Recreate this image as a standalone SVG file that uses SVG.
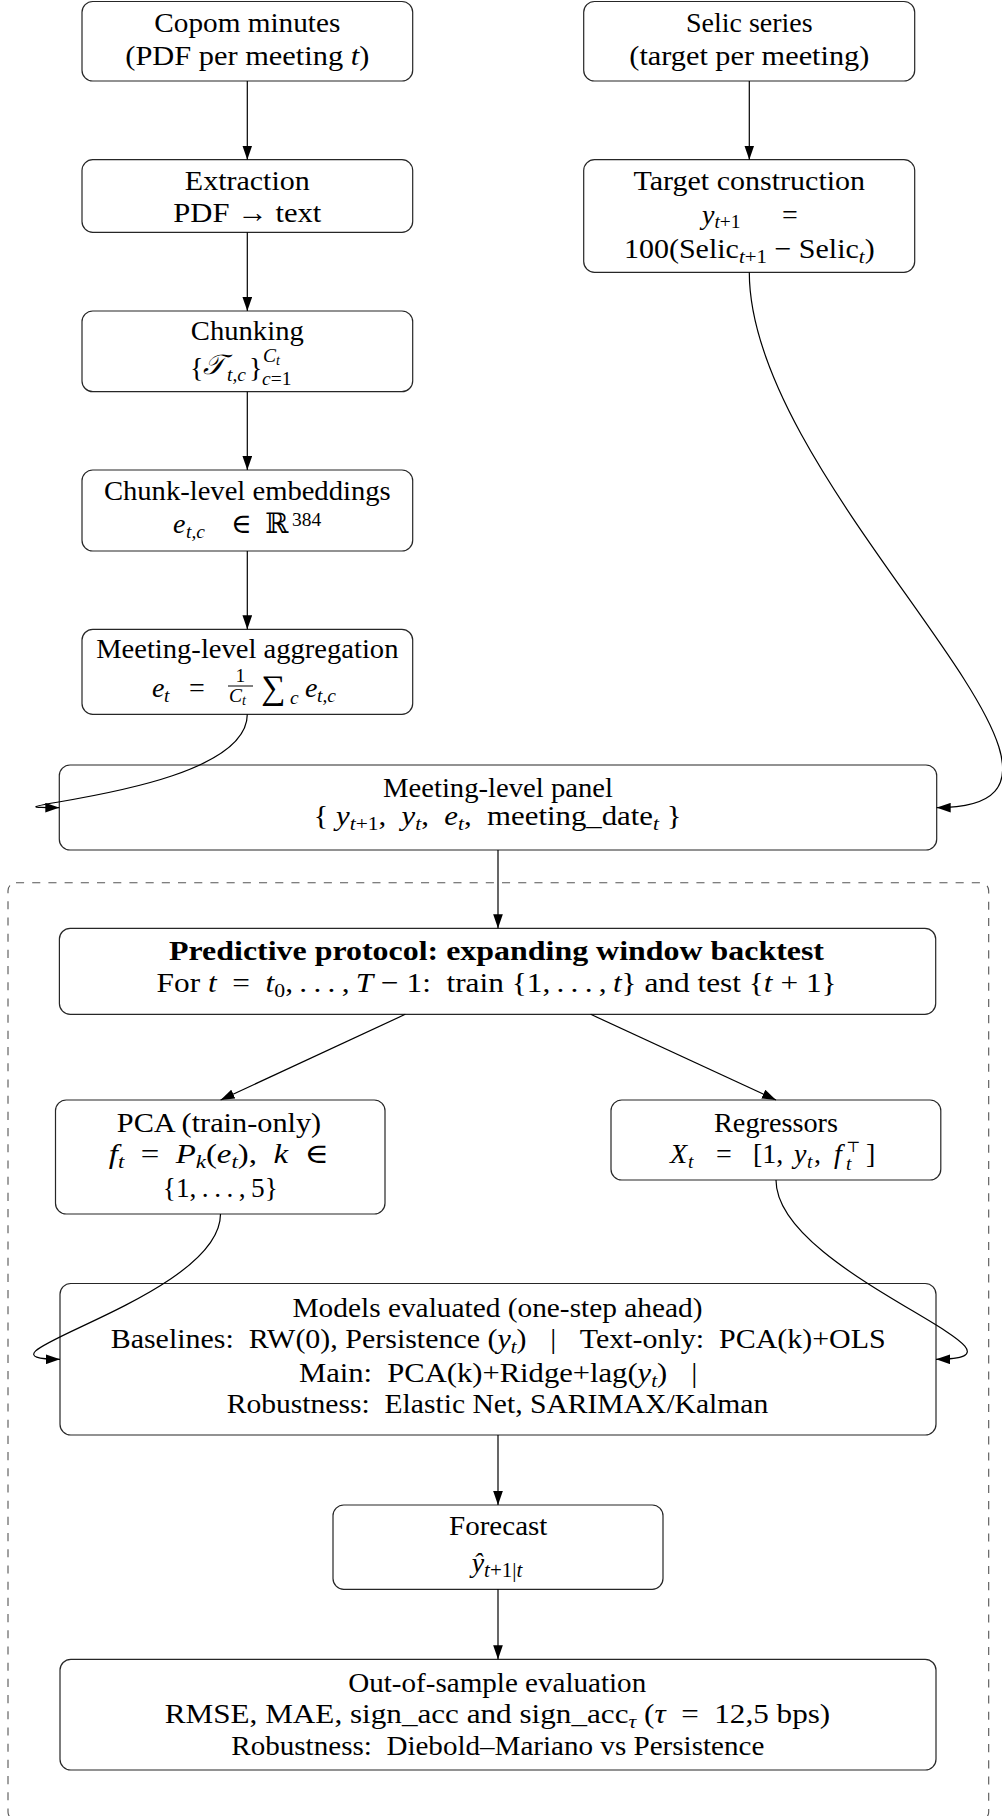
<svg xmlns="http://www.w3.org/2000/svg" width="1002" height="1816" viewBox="0 0 1002 1816">
<defs>
<style>
.n rect{fill:#fff;stroke:#262626;stroke-width:1.2}
text{font-family:"Liberation Serif","DejaVu Serif",serif;font-size:28px;fill:#000;text-anchor:middle}
text.l{text-anchor:start}
.i{font-style:italic}
.s{font-size:19.5px}
.ss{font-size:14px}
.b{font-weight:bold}
.c path,.c line{fill:none;stroke:#000;stroke-width:1.2}
.frame{fill:none;stroke:#555;stroke-width:1.1;stroke-dasharray:8.1 8.1}
</style>
<marker id="ah" markerUnits="userSpaceOnUse" markerWidth="14" markerHeight="10" refX="13" refY="4.5" orient="auto" viewBox="0 0 13 9">
<path d="M0,0 L13,4.5 L0,9 z" fill="#000"/>
</marker>
</defs>
<rect width="1002" height="1816" fill="#fff"/>
<rect class="frame" x="8" y="882.7" width="980.7" height="937.3" rx="8"/>

<g id="copom" class="n">
<rect x="82" y="1.5" width="330.7" height="79.5" rx="10.8"/>
<text x="247.3" y="32" textLength="186" lengthAdjust="spacingAndGlyphs">Copom minutes</text>
<text x="247.3" y="65" textLength="244" lengthAdjust="spacingAndGlyphs">(PDF per meeting <tspan class="i">t</tspan>)</text>
</g>

<g id="selic" class="n">
<rect x="583.7" y="1.5" width="331" height="79.5" rx="10.8"/>
<text x="749.3" y="32" textLength="126.7" lengthAdjust="spacingAndGlyphs">Selic series</text>
<text x="749.3" y="65" textLength="240" lengthAdjust="spacingAndGlyphs">(target per meeting)</text>
</g>

<g id="extraction" class="n">
<rect x="82" y="159.7" width="330.7" height="72.6" rx="10.8"/>
<text x="247.3" y="190" textLength="125" lengthAdjust="spacingAndGlyphs">Extraction</text>
<text x="247.3" y="221.7" textLength="148" lengthAdjust="spacingAndGlyphs">PDF → text</text>
</g>

<g id="target" class="n">
<rect x="583.7" y="159.7" width="331" height="112.6" rx="10.8"/>
<text x="749.3" y="190" textLength="231.7" lengthAdjust="spacingAndGlyphs">Target construction</text>
<text class="l" x="702" y="224"><tspan class="i">y</tspan><tspan class="s" dy="4"><tspan class="i">t</tspan>+1</tspan></text>
<text class="l" x="782" y="224">=</text>
<text x="749.3" y="257.5" textLength="250.7" lengthAdjust="spacingAndGlyphs">100(Selic<tspan class="s" dy="5"><tspan class="i">t</tspan>+1</tspan><tspan dy="-5">&#160;− Selic</tspan><tspan class="s i" dy="5">t</tspan><tspan dy="-5">)</tspan></text>
</g>

<g id="chunking" class="n">
<rect x="82" y="311" width="330.7" height="80.7" rx="10.8"/>
<text x="247.3" y="340" textLength="113" lengthAdjust="spacingAndGlyphs">Chunking</text>
<text class="l" x="190" y="376.7">{</text>
<text class="l i" x="203" y="374">𝒯</text>
<text class="l s i" x="227" y="381">t,c</text>
<text class="l" x="249" y="376.7">}</text>
<text class="l s i" x="263" y="362">C<tspan class="ss" dy="3">t</tspan></text>
<text class="l s" x="262" y="385"><tspan class="i">c</tspan>=1</text>
</g>

<g id="chunk-emb" class="n">
<rect x="82" y="470" width="330.7" height="81" rx="10.8"/>
<text x="247.3" y="500" textLength="286.7" lengthAdjust="spacingAndGlyphs">Chunk-level embeddings</text>
<text class="l i" x="173" y="533">e</text>
<text class="l s i" x="186" y="538">t,c</text>
<text class="l" x="231" y="533">∈</text>
<text class="l" x="265" y="533">ℝ</text>
<text class="l s" x="292" y="526">384</text>
</g>

<g id="aggregation" class="n">
<rect x="82" y="629.3" width="330.7" height="85" rx="10.8"/>
<text x="247.3" y="658.3" textLength="302.3" lengthAdjust="spacingAndGlyphs">Meeting-level aggregation</text>
<text class="l i" x="152" y="696.7">e</text>
<text class="l s i" x="164" y="701.5">t</text>
<text class="l" x="189" y="696.7">=</text>
<text class="l s" x="235.5" y="681.5">1</text>
<line x1="228" y1="686" x2="253" y2="686" stroke="#000" stroke-width="1"/>
<text class="l s i" x="229" y="702">C<tspan class="ss" dy="3">t</tspan></text>
<text class="l" x="261" y="699" style="font-size:34px">∑</text>
<text class="l s i" x="290" y="704">c</text>
<text class="l i" x="305" y="696.7">e</text>
<text class="l s i" x="317" y="701.5">t,c</text>
</g>

<g id="panel" class="n">
<rect x="59.3" y="765" width="877.4" height="85" rx="10.8"/>
<text x="498" y="796.7" textLength="230" lengthAdjust="spacingAndGlyphs">Meeting-level panel</text>
<text x="497.5" y="825" textLength="368" lengthAdjust="spacingAndGlyphs">{&#160;<tspan class="i">y</tspan><tspan class="s" dy="5"><tspan class="i">t</tspan>+1</tspan><tspan dy="-5">,&#160;&#160;</tspan><tspan class="i">y</tspan><tspan class="s i" dy="5">t</tspan><tspan dy="-5">,&#160;&#160;</tspan><tspan class="i">e</tspan><tspan class="s i" dy="5">t</tspan><tspan dy="-5">,&#160;&#160;meeting_date</tspan><tspan class="s i" dy="5">t</tspan><tspan dy="-5">&#160;}</tspan></text>
</g>

<g id="protocol" class="n">
<rect x="59.4" y="928.3" width="876.3" height="86" rx="10.8"/>
<text class="b" x="496.5" y="960" textLength="655" lengthAdjust="spacingAndGlyphs">Predictive protocol: expanding window backtest</text>
<text x="496.6" y="991.7" textLength="680" lengthAdjust="spacingAndGlyphs">For <tspan class="i">t</tspan>&#160;&#160;=&#160;&#160;<tspan class="i">t</tspan><tspan class="s" dy="5">0</tspan><tspan dy="-5">,&#8201;.&#8201;.&#8201;.&#8201;,&#8201;</tspan><tspan class="i">T</tspan>&#160;− 1:&#160; train {1,&#8201;.&#8201;.&#8201;.&#8201;,&#8201;<tspan class="i">t</tspan>} and test {<tspan class="i">t</tspan> + 1}</text>
</g>

<g id="pca" class="n">
<rect x="55.5" y="1100" width="329.5" height="114" rx="10.8"/>
<text x="219" y="1131.7" textLength="204.4" lengthAdjust="spacingAndGlyphs">PCA (train-only)</text>
<text x="218.8" y="1163" textLength="220" lengthAdjust="spacingAndGlyphs"><tspan class="i">f</tspan><tspan class="s i" dy="5">t</tspan><tspan dy="-5">&#160;&#160;=&#160;&#160;</tspan><tspan class="i">P</tspan><tspan class="s i" dy="5">k</tspan><tspan dy="-5">(</tspan><tspan class="i">e</tspan><tspan class="s i" dy="5">t</tspan><tspan dy="-5">),&#160;&#160;</tspan><tspan class="i">k</tspan>&#160;&#160;∈</text>
<text x="220.3" y="1196.7" textLength="115" lengthAdjust="spacingAndGlyphs">{1,&#8201;.&#8201;.&#8201;.&#8201;,&#8201;5}</text>
</g>

<g id="regressors" class="n">
<rect x="611" y="1100" width="329.8" height="80" rx="10.8"/>
<text x="776" y="1131.7" textLength="124" lengthAdjust="spacingAndGlyphs">Regressors</text>
<text class="l i" x="670" y="1163">X</text>
<text class="l s i" x="688" y="1168">t</text>
<text class="l" x="716" y="1163">=</text>
<text class="l" x="753" y="1163">[1,</text>
<text class="l i" x="794" y="1163">y</text>
<text class="l s i" x="807" y="1168">t</text>
<text class="l" x="814" y="1163">,</text>
<text class="l i" x="834" y="1163">f</text>
<text class="l s i" x="846" y="1170">t</text>
<text class="l" x="846" y="1152" style="font-size:15px">⊤</text>
<text class="l" x="866" y="1163">]</text>
</g>

<g id="models" class="n">
<rect x="60" y="1283.5" width="876" height="151.5" rx="10.8"/>
<text x="497.5" y="1316.7" textLength="410" lengthAdjust="spacingAndGlyphs">Models evaluated (one-step ahead)</text>
<text x="498.2" y="1348.3" textLength="775" lengthAdjust="spacingAndGlyphs">Baselines:&#160; RW(0), Persistence (<tspan class="i">y</tspan><tspan class="s i" dy="5">t</tspan><tspan dy="-5">)</tspan><tspan dx="22">|</tspan><tspan dx="22">Text-only:&#160; PCA(k)+OLS</tspan></text>
<text x="498.2" y="1381.7" textLength="398.5" lengthAdjust="spacingAndGlyphs">Main:&#160; PCA(k)+Ridge+lag(<tspan class="i">y</tspan><tspan class="s i" dy="5">t</tspan><tspan dy="-5">)</tspan><tspan dx="22">|</tspan></text>
<text x="497.5" y="1413.3" textLength="541.6" lengthAdjust="spacingAndGlyphs">Robustness:&#160; Elastic Net, SARIMAX/Kalman</text>
</g>

<g id="forecast" class="n">
<rect x="333" y="1505" width="330" height="84.3" rx="10.8"/>
<text x="498.2" y="1535" textLength="98.4" lengthAdjust="spacingAndGlyphs">Forecast</text>
<text x="497" y="1571.7"><tspan class="i">ŷ</tspan><tspan dy="5" style="font-size:21px"><tspan class="i">t</tspan>+1|<tspan class="i">t</tspan></tspan></text>
</g>

<g id="evaluation" class="n">
<rect x="60" y="1659.3" width="876" height="110.7" rx="10.8"/>
<text x="497.2" y="1691.7" textLength="298" lengthAdjust="spacingAndGlyphs">Out-of-sample evaluation</text>
<text x="497.5" y="1723.3" textLength="665.5" lengthAdjust="spacingAndGlyphs">RMSE, MAE, sign_acc and sign_acc<tspan class="s i" dy="5">τ</tspan><tspan dy="-5"> (</tspan><tspan class="i">τ</tspan>&#160;&#160;=&#160;&#160;12,5 bps)</text>
<text x="497.8" y="1755" textLength="533" lengthAdjust="spacingAndGlyphs">Robustness:&#160; Diebold–Mariano vs Persistence</text>
</g>

<g id="connectors" class="c">
<line x1="247.3" y1="81" x2="247.3" y2="159.7" marker-end="url(#ah)"/>
<line x1="247.3" y1="232.3" x2="247.3" y2="311" marker-end="url(#ah)"/>
<line x1="247.3" y1="391.7" x2="247.3" y2="470" marker-end="url(#ah)"/>
<line x1="247.3" y1="551" x2="247.3" y2="629.3" marker-end="url(#ah)"/>
<line x1="749.3" y1="81" x2="749.3" y2="159.7" marker-end="url(#ah)"/>
<path d="M247.3,714.3 C247.3,796.3 -47.7,807.7 59.3,807.7" marker-end="url(#ah)"/>
<path d="M749.3,272.3 C749.3,494.3 1158.7,807.7 936.7,807.7" marker-end="url(#ah)"/>
<line x1="498" y1="850" x2="498" y2="928.3" marker-end="url(#ah)"/>
<line x1="405.3" y1="1014.3" x2="220.6" y2="1100" marker-end="url(#ah)"/>
<line x1="590.7" y1="1014.3" x2="776" y2="1100" marker-end="url(#ah)"/>
<path d="M220.5,1214 C220.5,1298.5 -50,1359.3 60,1359.3" marker-end="url(#ah)"/>
<path d="M776,1180 C776,1274 1060,1359.3 936,1359.3" marker-end="url(#ah)"/>
<line x1="498" y1="1435" x2="498" y2="1505" marker-end="url(#ah)"/>
<line x1="498" y1="1589.3" x2="498" y2="1659.3" marker-end="url(#ah)"/>
</g>
</svg>
